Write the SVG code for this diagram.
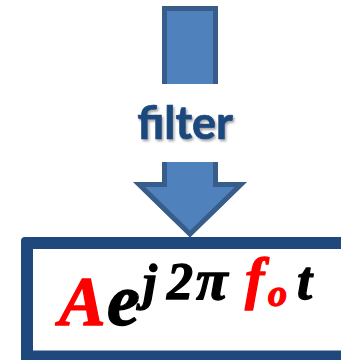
<svg xmlns="http://www.w3.org/2000/svg" width="341" height="360" viewBox="0 0 341 360">
<style>
.arr{fill:#4F81BD;stroke:#385D8A;stroke-width:10}
.lbl{font-family:Lato,"Open Sans",sans-serif;font-weight:bold;font-size:45px;fill:#1F497D;stroke:#1F497D;stroke-width:0.7}
.m{font-family:"Liberation Serif","DejaVu Serif",serif;font-weight:bold;font-style:italic;stroke-width:1.3;stroke-linejoin:round}
.red{fill:#FF0000;stroke:#FF0000}
.blk{fill:#000000;stroke:#000000}
</style>
<defs>
<clipPath id="cTop"><rect x="162" y="6" width="56" height="78"/></clipPath>
<clipPath id="cHead"><polygon points="162,162 162,182 133,182 190,237.5 247,182 218,182 218,162"/></clipPath>
<filter id="sh" x="-10%" y="-10%" width="130%" height="140%"><feDropShadow dx="1.5" dy="2" stdDeviation="1" flood-color="#000" flood-opacity="0.35"/></filter>
</defs>
<g id="connectors">
<path class="arr" clip-path="url(#cTop)" d="M162,84 V6 H218 V84"/>
<path class="arr" clip-path="url(#cHead)" d="M162,162 V182 H133 L190,237.5 L247,182 H218 V162"/>
</g>
<g id="filter-label">
<text class="lbl" x="185" y="139" text-anchor="middle" filter="url(#sh)">filter</text>
</g>
<g id="output">
<rect x="21" y="237" width="340" height="140" rx="4" fill="#1F497D"/>
<rect x="33" y="249" width="320" height="101.5" fill="#FFFFFF"/>
<text class="m red" x="59" y="325" font-size="70">A</text>
<text class="m blk" x="107" y="325" font-size="74">e</text>
<text class="m blk" x="143" y="299" font-size="50">j</text>
<text class="m blk" x="167" y="299" font-size="52">2</text>
<text class="m blk" x="196" y="299" font-size="58">π</text>
<text class="m red" x="245" y="298" font-size="58">f</text>
<text class="m red" x="268" y="306" font-size="38">o</text>
<text class="m blk" x="297" y="299" font-size="54">t</text>
</g>
</svg>
